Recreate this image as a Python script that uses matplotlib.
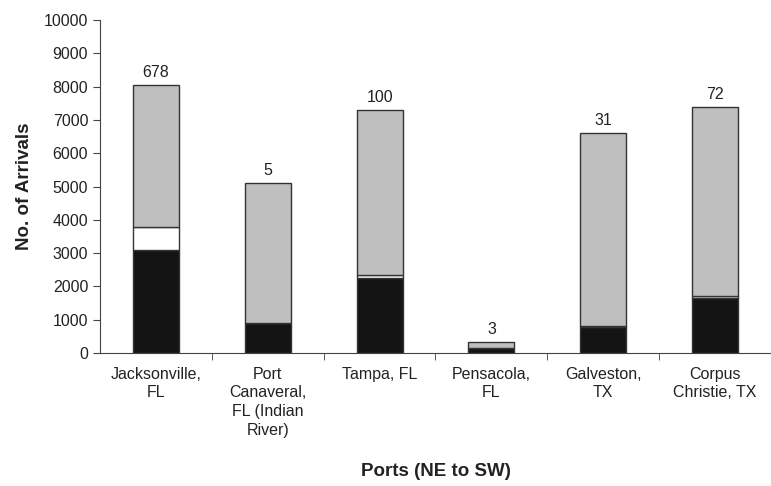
import numpy as np
import matplotlib
matplotlib.use("Agg")
import matplotlib.pyplot as plt

plt.rcParams['font.family'] = ['Liberation Sans', 'DejaVu Sans']

# data
ports = ["Jacksonville,\nFL", "Port\nCanaveral,\nFL (Indian\nRiver)", "Tampa, FL",
         "Pensacola,\nFL", "Galveston,\nTX", "Corpus\nChristie, TX"]
black_part = [3100, 900, 2250, 150, 780, 1650]
white_part = [678, 5, 100, 3, 31, 72]
gray_part = [4270, 4195, 4950, 177, 5810, 5680]
top_labels = ["678", "5", "100", "3", "31", "72"]

x = np.arange(len(ports))
fig = plt.figure(figsize=(7.71, 4.86), dpi=100)
ax = fig.add_axes([0.1297, 0.2737, 0.8703, 0.6851])

w = 0.41
edge = "#333333"
ax.bar(x, black_part, w, color="#141414", edgecolor=edge, linewidth=1)
ax.bar(x, white_part, w, bottom=black_part, color="white", edgecolor=edge, linewidth=1)
b2 = np.array(black_part) + np.array(white_part)
ax.bar(x, gray_part, w, bottom=b2, color="#bfbfbf", edgecolor=edge, linewidth=1)

totals = b2 + np.array(gray_part)
for xi, t, lab in zip(x, totals, top_labels):
    ax.text(xi, t + 150, lab, ha="center", va="bottom", fontsize=11.5, color="#222222")

ax.set_xlim(-0.5, len(ports) - 0.5)
ax.set_ylim(0, 10000)
ax.set_yticks(np.arange(0, 10001, 1000))
ax.tick_params(axis="y", labelsize=11.5, length=5, color="#444444", labelcolor="#222222")
ax.set_xticks(x)
ax.set_xticklabels(ports, fontsize=11.5, color="#222222", linespacing=1.3)
ax.tick_params(axis="x", length=0, pad=10)
ax.set_xticks(x[:-1] + 0.5, minor=True)
ax.tick_params(axis="x", which="minor", length=5, color="#444444")

for s in ["top", "right"]:
    ax.spines[s].set_visible(False)
ax.spines["left"].set_color("#444444")
ax.spines["bottom"].set_color("#444444")

ax.set_ylabel("No. of Arrivals", fontsize=13.5, fontweight="bold", color="#222222", labelpad=8)
ax.set_xlabel("Ports (NE to SW)", fontsize=13.5, fontweight="bold", color="#222222", labelpad=18)

fig.savefig("out.png", dpi=100)
